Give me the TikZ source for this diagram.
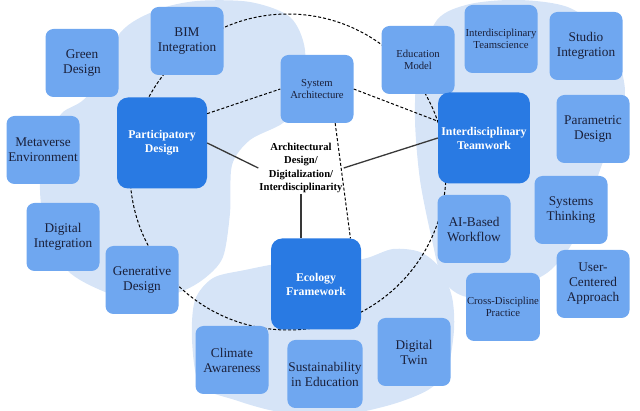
\documentclass[tikz,border=0pt]{standalone}
\usepackage{fontspec}
\setmainfont{Liberation Serif}
\usetikzlibrary{calc}
\definecolor{blobblue}{RGB}{214,228,247}
\definecolor{boxblue}{RGB}{111,167,240}
\definecolor{coreblue}{RGB}{41,122,227}
\definecolor{inkblue}{RGB}{26,32,58}

\begin{document}
\begin{tikzpicture}[x=1pt,y=-1pt,
    topic/.style={rectangle, rounded corners=8pt, fill=boxblue, text=inkblue, align=center,
        minimum width=73pt, minimum height=68pt, inner sep=1pt, font=\fontsize{13.3}{15}\selectfont},
    smalltext/.style={font=\fontsize{10.7}{12.5}\selectfont},
    core/.style={rectangle, rounded corners=11pt, fill=coreblue, text=white, align=center,
        minimum width=90pt, minimum height=91pt, font=\bfseries\fontsize{11.8}{14}\selectfont},
    link/.style={line width=1.3pt, draw=black!78},
    dashlink/.style={line width=1pt, dash pattern=on 3pt off 2pt}]
    \useasboundingbox (0,0) rectangle (640,411);
    % background clouds
    \fill[blobblue] plot[smooth cycle] coordinates {(157,10) (197,1) (250,2) (290,17) (305,50) (300,100) (283,123) (250,140) (232,165) (230,213) (223,257) (205,278) (180,292) (140,300) (105,292) (67,270) (45,225) (40,183) (48,140) (62,113) (88,95) (120,33)};
    \fill[blobblue] plot[smooth cycle] coordinates {(437,20) (470,4) (520,0) (570,8) (610,40) (625,90) (615,130) (600,170) (587,210) (570,247) (547,273) (510,290) (467,297) (443,280) (432,240) (420,180) (415,120) (418,70)};
    \fill[blobblue] plot[smooth cycle] coordinates {(195,300) (213,278) (245,270) (290,262) (340,262) (367,258) (393,249) (420,252) (440,268) (452,297) (454,330) (447,370) (428,390) (390,405) (340,415) (280,412) (235,400) (200,385) (192,340)};
    % ring
    \draw[dashlink] (288,172) circle (158);
    % outer topics
    \node[topic] (green) at (82,63) {Green\\Design};
    \node[topic] (bim) at (187,41) {BIM\\Integration};
    \node[topic] (meta) at (43,150) {Metaverse\\Environment};
    \node[topic] (digint) at (63,237) {Digital\\Integration};
    \node[topic] (gen) at (142,280) {Generative\\Design};
    \node[topic,smalltext] (sys) at (317,89) {System\\Architecture};
    \node[topic,smalltext] (edu) at (418,60) {Education\\Model};
    \node[topic,smalltext] (teamsci) at (501,39) {Interdisciplinary\\Teamscience};
    \node[topic] (studio) at (586,46) {Studio\\Integration};
    \node[topic] (param) at (593,129) {Parametric\\Design};
    \node[topic] (systhink) at (571,210) {Systems\\Thinking};
    \node[topic] (ai) at (474,229) {AI-Based\\Workflow};
    \node[topic,smalltext] (cross) at (503,307) {Cross-Discipline\\Practice};
    \node[topic] (user) at (593,284) {User-\\Centered\\Approach};
    \node[topic] (climate) at (232,360) {Climate\\Awareness};
    \node[topic] (sust) at (325,374) {Sustainability\\in Education};
    \node[topic] (twin) at (414,352) {Digital\\Twin};
    % main themes
    \node[core] (part) at (162,143) {Participatory\\Design};
    \node[core] (work) at (484,138) {Interdisciplinary\\Teamwork};
    \node[core] (eco) at (316,284) {Ecology\\Framework};
    \node[align=center, inner sep=1pt, font=\bfseries\fontsize{10.6}{13.3}\selectfont] (hub) at (301,168)
        {Architectural\\Design/\\Digitalization/\\Interdisciplinarity};
    % connectors
    \draw[dashlink] (part.33) -- (sys.west);
    \draw[dashlink] (sys.east) -- (work.160);
    \draw[dashlink] (sys.-62) -- (eco.53);
    \draw[link] (part.east) -- (hub.west);
    \draw[link] (hub.east) -- (work.west);
    \draw[link] (hub.south) -- (hub.south |- eco.north);
\end{tikzpicture}
\end{document}
